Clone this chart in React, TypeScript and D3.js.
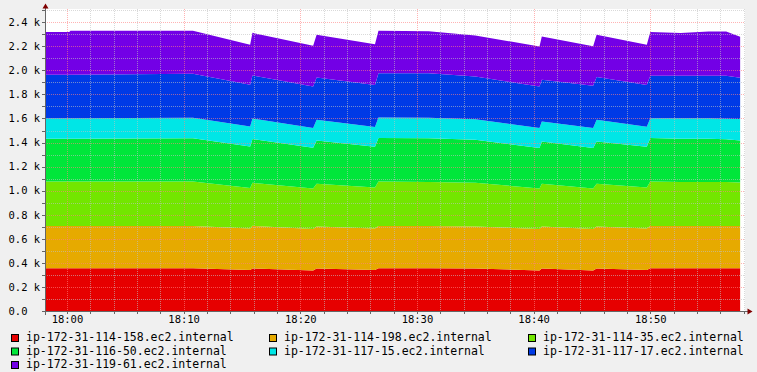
import React from "react";
import * as d3 from "d3";

const hosts = [
  "ip-172-31-114-158.ec2.internal",
  "ip-172-31-114-198.ec2.internal",
  "ip-172-31-114-35.ec2.internal",
  "ip-172-31-116-50.ec2.internal",
  "ip-172-31-117-15.ec2.internal",
  "ip-172-31-117-17.ec2.internal",
  "ip-172-31-119-61.ec2.internal",
];

const colors = ["#e60000", "#e6aa00", "#73e600", "#00e63a", "#00e6e6", "#003ae6", "#7300e6"];

const times = [
  "17:58:07", "18:00:12", "18:00:18", "18:10:48", "18:15:42", "18:15:54",
  "18:21:06", "18:21:24", "18:26:24", "18:26:42", "18:31:00", "18:35:00",
  "18:40:30", "18:40:42", "18:45:06", "18:45:24", "18:49:42", "18:50:00",
  "18:52:36", "18:55:00", "18:56:30", "18:57:42",
];

const s114_158 = [355, 355, 355, 355, 341, 354, 337, 354, 341, 355, 355, 354, 337, 354, 337, 354, 341, 355, 355, 355, 355, 355];
const s114_198 = [352, 352, 352, 352, 345, 354, 345, 349, 345, 352, 352, 349, 345, 349, 345, 349, 345, 352, 352, 352, 352, 352];
const s114_35 = [369, 369, 369, 369, 337, 358, 337, 354, 341, 369, 366, 362, 337, 354, 337, 354, 341, 369, 366, 366, 366, 362];
const s116_50 = [355, 355, 355, 359, 344, 364, 337, 360, 339, 361, 362, 358, 335, 352, 335, 352, 339, 361, 358, 358, 354, 348];
const s117_15 = [172, 172, 172, 171, 166, 169, 166, 172, 164, 171, 171, 171, 166, 166, 166, 181, 166, 166, 171, 171, 171, 178];
const s117_17 = [360, 360, 360, 366, 347, 358, 344, 352, 349, 369, 370, 354, 346, 347, 352, 355, 347, 352, 354, 354, 358, 344];
const s119_61 = [355, 355, 366, 358, 333, 355, 339, 355, 337, 352, 349, 341, 333, 360, 329, 352, 333, 364, 355, 366, 366, 341];

const seriesValues = [s114_158, s114_198, s114_35, s116_50, s117_15, s117_17, s119_61];

const yMajorTicks = [0, 200, 400, 600, 800, 1000, 1200, 1400, 1600, 1800, 2000, 2200, 2400];
const yMinorTicks = [100, 300, 500, 700, 900, 1100, 1300, 1500, 1700, 1900, 2100, 2300, 2500];

const parseT = (s: string) => {
  const [h, m, sec] = s.split(":").map(Number);
  return new Date(2020, 0, 1, h, m, sec);
};

const FONT = "DejaVu Sans Mono";

export default function App() {
  const W = 757, H = 372;
  const left = 45, right = 745, bottom = 311, top = 9;

  const rows = times.map((t, i) => {
    const r: any = { t: parseT(t) };
    hosts.forEach((h, j) => (r[h] = seriesValues[j][i]));
    return r;
  });

  const x = d3.scaleTime().domain([parseT("17:58:07"), parseT("18:58:07")]).range([left, right]);
  const y = d3.scaleLinear().domain([0, 2510]).range([bottom, top]);

  const stacked = d3.stack<any>().keys(hosts)(rows);
  const area = d3
    .area<any>()
    .x((d) => x(d.data.t))
    .y0((d) => y(d[0]))
    .y1((d) => y(d[1]))
    .curve(d3.curveLinear);

  const minorX = x.ticks(d3.timeMinute.every(2) as any).filter((d) => d.getMinutes() % 10 !== 0);
  const majorX = x.ticks(d3.timeMinute.every(10) as any);
  const fmt = d3.timeFormat("%H:%M");

  const legendCols = [11, 269, 528];
  const legendRows = [341, 354.5, 368];

  return (
    <svg
      width={W}
      height={H}
      style={{ position: "absolute", left: 0, top: 0, display: "block" }}
      fontFamily={FONT}
    >
      <rect x={0} y={0} width={W} height={H} fill="#f0f0f0" />
      <rect x={left} y={top} width={right - left} height={bottom - top} fill="#ffffff" />
      <g>
        {stacked.map((s, i) => (
          <path key={hosts[i]} d={area(s) || ""} fill={colors[i]} />
        ))}
      </g>
      {/* minor grid */}
      <g stroke="#c0c0c0" strokeOpacity={0.6} strokeWidth={1} strokeDasharray="1,1">
        {yMinorTicks.map((v) => (
          <line key={"ym" + v} x1={left} x2={right} y1={Math.round(y(v)) + 0.5} y2={Math.round(y(v)) + 0.5} />
        ))}
        {minorX.map((d) => (
          <line key={"xm" + +d} x1={Math.round(x(d)) + 0.5} x2={Math.round(x(d)) + 0.5} y1={top} y2={bottom} />
        ))}
      </g>
      {/* major grid */}
      <g stroke="#ff8080" strokeOpacity={0.6} strokeWidth={1} strokeDasharray="1,1">
        {yMajorTicks.filter((v) => v > 0).map((v) => (
          <line key={"yM" + v} x1={left} x2={right} y1={Math.round(y(v)) + 0.5} y2={Math.round(y(v)) + 0.5} />
        ))}
        {majorX.map((d) => (
          <line key={"xM" + +d} x1={Math.round(x(d)) + 0.5} x2={Math.round(x(d)) + 0.5} y1={top} y2={bottom} />
        ))}
      </g>
      {/* ticks */}
      <g stroke="#666" strokeWidth={1}>
        {yMajorTicks.concat(yMinorTicks).map((v) => (
          <line key={"yt" + v} x1={42} x2={45} y1={Math.round(y(v)) + 0.5} y2={Math.round(y(v)) + 0.5} />
        ))}
        {minorX.concat(majorX).map((d) => (
          <line key={"xt" + +d} x1={Math.round(x(d)) + 0.5} x2={Math.round(x(d)) + 0.5} y1={311} y2={314} />
        ))}
      </g>
      {/* axes */}
      <line x1={45.5} x2={45.5} y1={315} y2={7} stroke="#666" strokeWidth={1} />
      <line x1={42} x2={748} y1={311.5} y2={311.5} stroke="#666" strokeWidth={1} />
      <path d="M45.5,3.5 L42.5,8.5 L48.5,8.5 Z" fill="#7f0000" />
      <path d="M752.5,311.5 L747.5,308.5 L747.5,314.5 Z" fill="#7f0000" />
      {/* y labels */}
      <g fontSize={10.5} fill="#000">
        {yMajorTicks.map((v) => (
          <text key={"yl" + v} x={8.5} y={y(v)} dy="0.36em">
            {v === 0 ? "0.0" : (v / 1000).toFixed(1) + " k"}
          </text>
        ))}
        {majorX.map((d) => (
          <text key={"xl" + +d} x={x(d) + 0.5} y={323} textAnchor="middle">
            {fmt(d)}
          </text>
        ))}
      </g>
      {/* legend */}
      <g fontSize={11.5} fill="#000">
        {hosts.map((h, i) => {
          const cx = legendCols[i % 3];
          const by = legendRows[Math.floor(i / 3)];
          return (
            <g key={"lg" + h}>
              <rect x={cx + 0.5} y={by - 6.5} width={7} height={7} fill={colors[i]} stroke="#000" strokeWidth={1} />
              <text x={cx + 15} y={by}>
                {h}
              </text>
            </g>
          );
        })}
      </g>
    </svg>
  );
}
